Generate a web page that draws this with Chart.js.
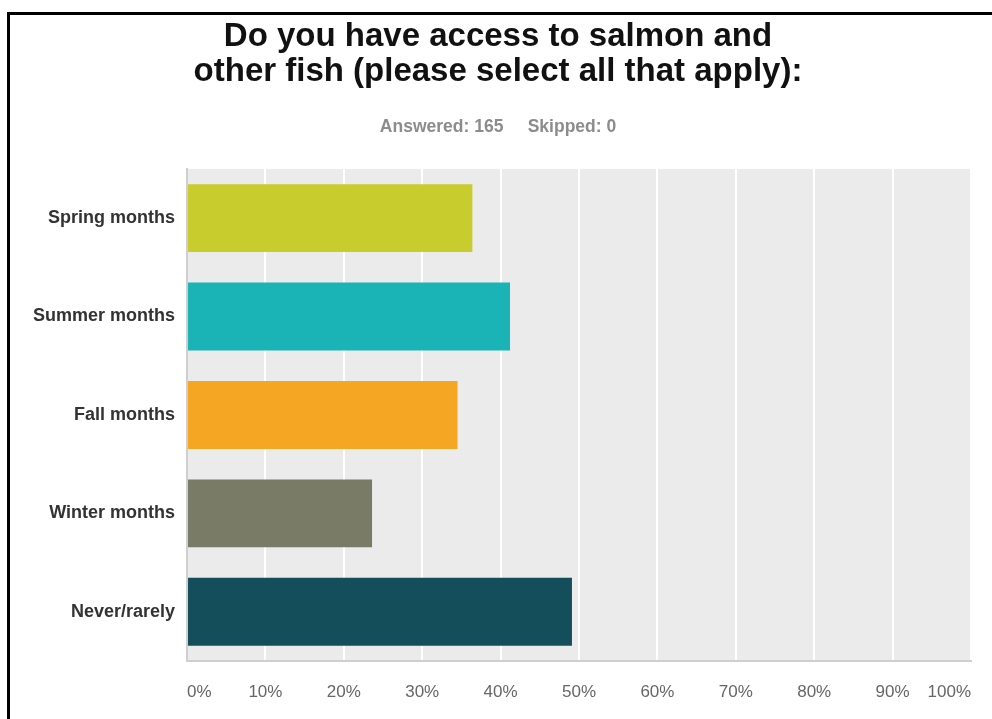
<!DOCTYPE html>
<html>
<head>
<meta charset="utf-8">
<script src="https://cdn.jsdelivr.net/npm/chart.js@4"></script>
<style>
  html, body { margin: 0; padding: 0; background: #fff; }
  #wrap { position: relative; width: 992px; height: 719px; }
  #marco {
    position: absolute; left: 7px; top: 12px; right: 0; bottom: 0;
    border-top: 3px solid #000; border-left: 3px solid #000;
    pointer-events: none;
  }
</style>
</head>
<body>
<div id="wrap">
  <canvas id="myChart" width="992" height="719"></canvas>
  <div id="marco"></div>
</div>
<script>
// datos
const categorias = ['Spring months', 'Summer months', 'Fall months', 'Winter months', 'Never/rarely'];
const porcentajes = [36.4, 41.2, 34.5, 23.6, 49.1];
const colores = ['#c8cd2d', '#1bb4b6', '#f5a623', '#7a7b67', '#144e5b'];
const titulo = ['Do you have access to salmon and', 'other fish (please select all that apply):'];
const subtitulo = 'Answered: 165     Skipped: 0';

// fondo gris del area del grafico
const fondoArea = {
  id: 'fondoArea',
  beforeDraw(chart) {
    const {ctx, chartArea: a} = chart;
    ctx.save();
    ctx.fillStyle = '#ebebeb';
    ctx.fillRect(a.left, a.top, a.right - a.left, a.bottom - a.top);
    ctx.restore();
  }
};

const ctx = document.getElementById('myChart').getContext('2d');
new Chart(ctx, {
  type: 'bar',
  data: {
    labels: categorias,
    datasets: [{
      data: porcentajes,
      backgroundColor: colores,
      borderWidth: 0,
      barPercentage: 0.69,
      categoryPercentage: 1
    }]
  },
  options: {
    indexAxis: 'y',
    responsive: false,
    animation: false,
    layout: {padding: {top: 19, left: 21, right: 17, bottom: 17}},
    scales: {
      x: {
        min: 0, max: 100,
        afterFit: s => { s.height = 41; },
        ticks: {
          stepSize: 10,
          align: 'inner',
          maxRotation: 0,
          padding: 21,
          color: '#666',
          font: {family: 'Liberation Sans, Arial, sans-serif', size: 17},
          callback: v => v + '%'
        },
        grid: {
          color: c => c.tick && c.tick.value === 0 ? 'rgba(0,0,0,0)' : '#ffffff',
          lineWidth: 2,
          drawTicks: false
        },
        border: {display: true, color: '#cfcfcf', width: 2}
      },
      y: {
        ticks: {
          padding: 12,
          color: '#333',
          font: {family: 'Liberation Sans, Arial, sans-serif', size: 18, weight: 'bold'}
        },
        grid: {display: false, drawTicks: false},
        border: {display: true, color: '#cfcfcf', width: 2}
      }
    },
    plugins: {
      legend: {display: false},
      tooltip: {enabled: false},
      title: {
        display: true,
        text: titulo,
        color: '#111',
        font: {family: 'Liberation Sans, Arial, sans-serif', size: 33, weight: 'bold', lineHeight: 1.07},
        padding: {top: 0, bottom: 28}
      },
      subtitle: {
        display: true,
        text: subtitulo,
        color: '#8c8c8c',
        font: {family: 'Liberation Sans, Arial, sans-serif', size: 17.5, weight: 'bold', lineHeight: 1.1},
        padding: {top: 0, bottom: 32}
      }
    }
  },
  plugins: [fondoArea]
});
</script>
</body>
</html>
